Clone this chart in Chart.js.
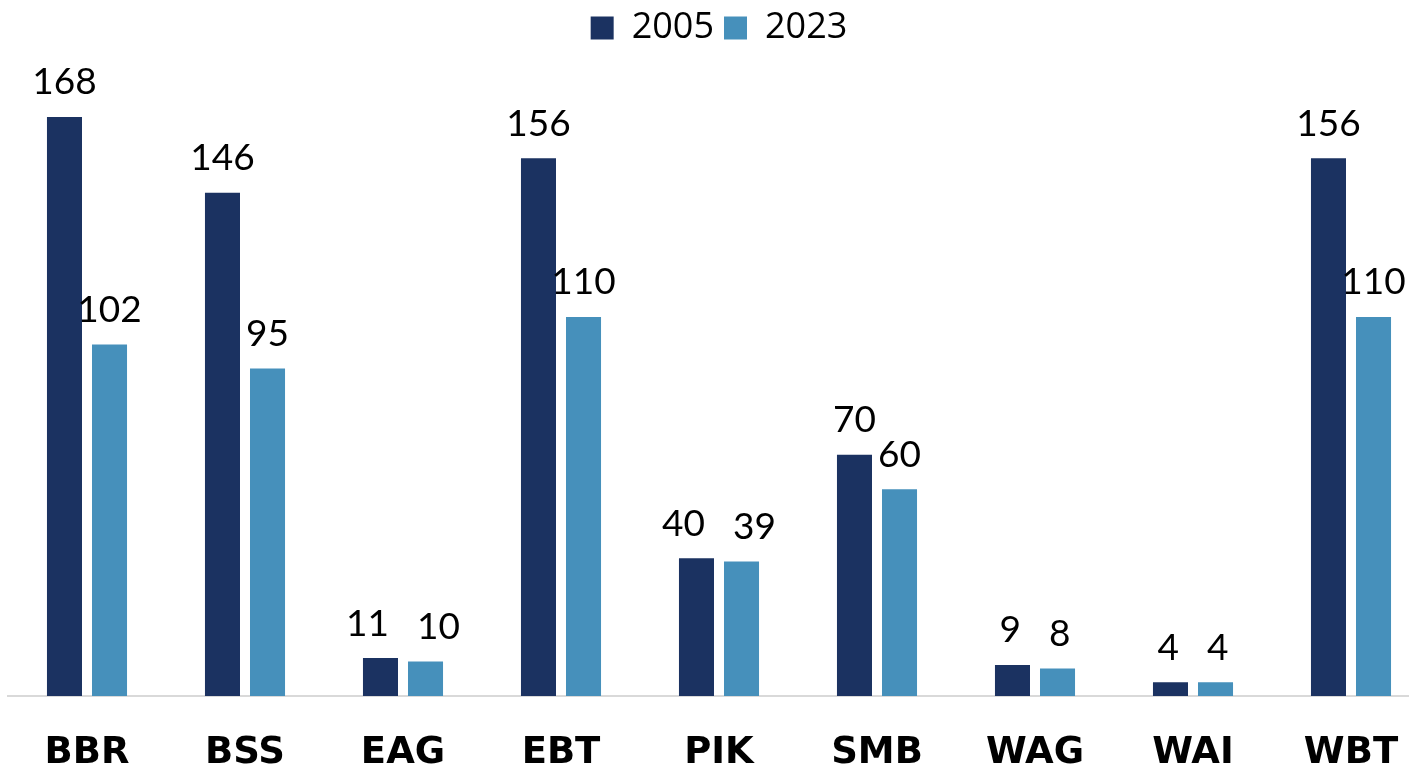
<!DOCTYPE html>
<html>
<head>
<meta charset="utf-8">
<script src="https://cdn.jsdelivr.net/npm/chart.js@4/dist/chart.umd.min.js"></script>
<style>
  html, body { margin: 0; padding: 0; background: #fff; overflow: hidden; }
  #wrap { width: 1430px; height: 766px; position: relative; }
</style>
</head>
<body>
<div id="wrap"><canvas id="chart"></canvas></div>
<script>
// data
const sites = ["BBR", "BSS", "EAG", "EBT", "PIK", "SMB", "WAG", "WAI", "WBT"];
const years = ["2005", "2023"];
const counts2005 = [168, 146, 11, 156, 40, 70, 9, 4, 156];
const counts2023 = [102, 95, 10, 110, 39, 60, 8, 4, 110];
const colors = ["#1b3261", "#4690bb"];

// value labels on top of each bar; pairs that would collide get pushed apart
const barLabels = {
  id: "barLabels",
  afterDatasetsDraw(chart) {
    const ctx = chart.ctx;
    const lift = 16, textH = 30, minGap = 28;
    ctx.save();
    ctx.fillStyle = "#000";
    ctx.font = "37px Lato, sans-serif";
    ctx.textAlign = "center";
    ctx.textBaseline = "bottom";
    const m0 = chart.getDatasetMeta(0).data;
    const m1 = chart.getDatasetMeta(1).data;
    sites.forEach((_, i) => {
      const t0 = String(counts2005[i]), t1 = String(counts2023[i]);
      let x0 = m0[i].x, x1 = m1[i].x;
      const y0 = m0[i].y - lift, y1 = m1[i].y - lift;
      if (Math.abs(y0 - y1) < textH) {
        const gap = (x1 - x0) - (ctx.measureText(t0).width + ctx.measureText(t1).width) / 2;
        if (gap < minGap) {
          const d = (minGap - gap) / 2;
          x0 -= d; x1 += d;
        }
      }
      ctx.fillText(t0, x0, y0);
      ctx.fillText(t1, x1, y1);
    });
    ctx.restore();
  },
};

new Chart(document.getElementById("chart"), {
  type: "bar",
  data: {
    labels: sites,
    datasets: [
      { label: years[0], data: counts2005, backgroundColor: colors[0] },
      { label: years[1], data: counts2023, backgroundColor: colors[1] },
    ],
  },
  options: {
    responsive: true,
    maintainAspectRatio: false,
    animation: false,
    categoryPercentage: 0.57,
    barPercentage: 0.778,
    layout: { padding: { left: 8, right: 0, top: 0, bottom: -37 } },
    plugins: {
      legend: {
        position: "top",
        labels: {
          color: "#000",
          boxWidth: 23,
          boxHeight: 23,
          padding: 10,
          font: { family: "'Open Sans', sans-serif", size: 36 },
        },
      },
      tooltip: { enabled: false },
    },
    scales: {
      x: {
        grid: { display: false },
        border: { display: true, color: "#d9d9d9", width: 2 },
        ticks: {
          color: "#000",
          padding: 31,
          font: { family: "'DejaVu Sans', sans-serif", size: 37, weight: "bold", lineHeight: 1.0 },
        },
      },
      y: { display: false, min: 0, max: 185.7 },
    },
  },
  plugins: [barLabels],
});
</script>
</body>
</html>
